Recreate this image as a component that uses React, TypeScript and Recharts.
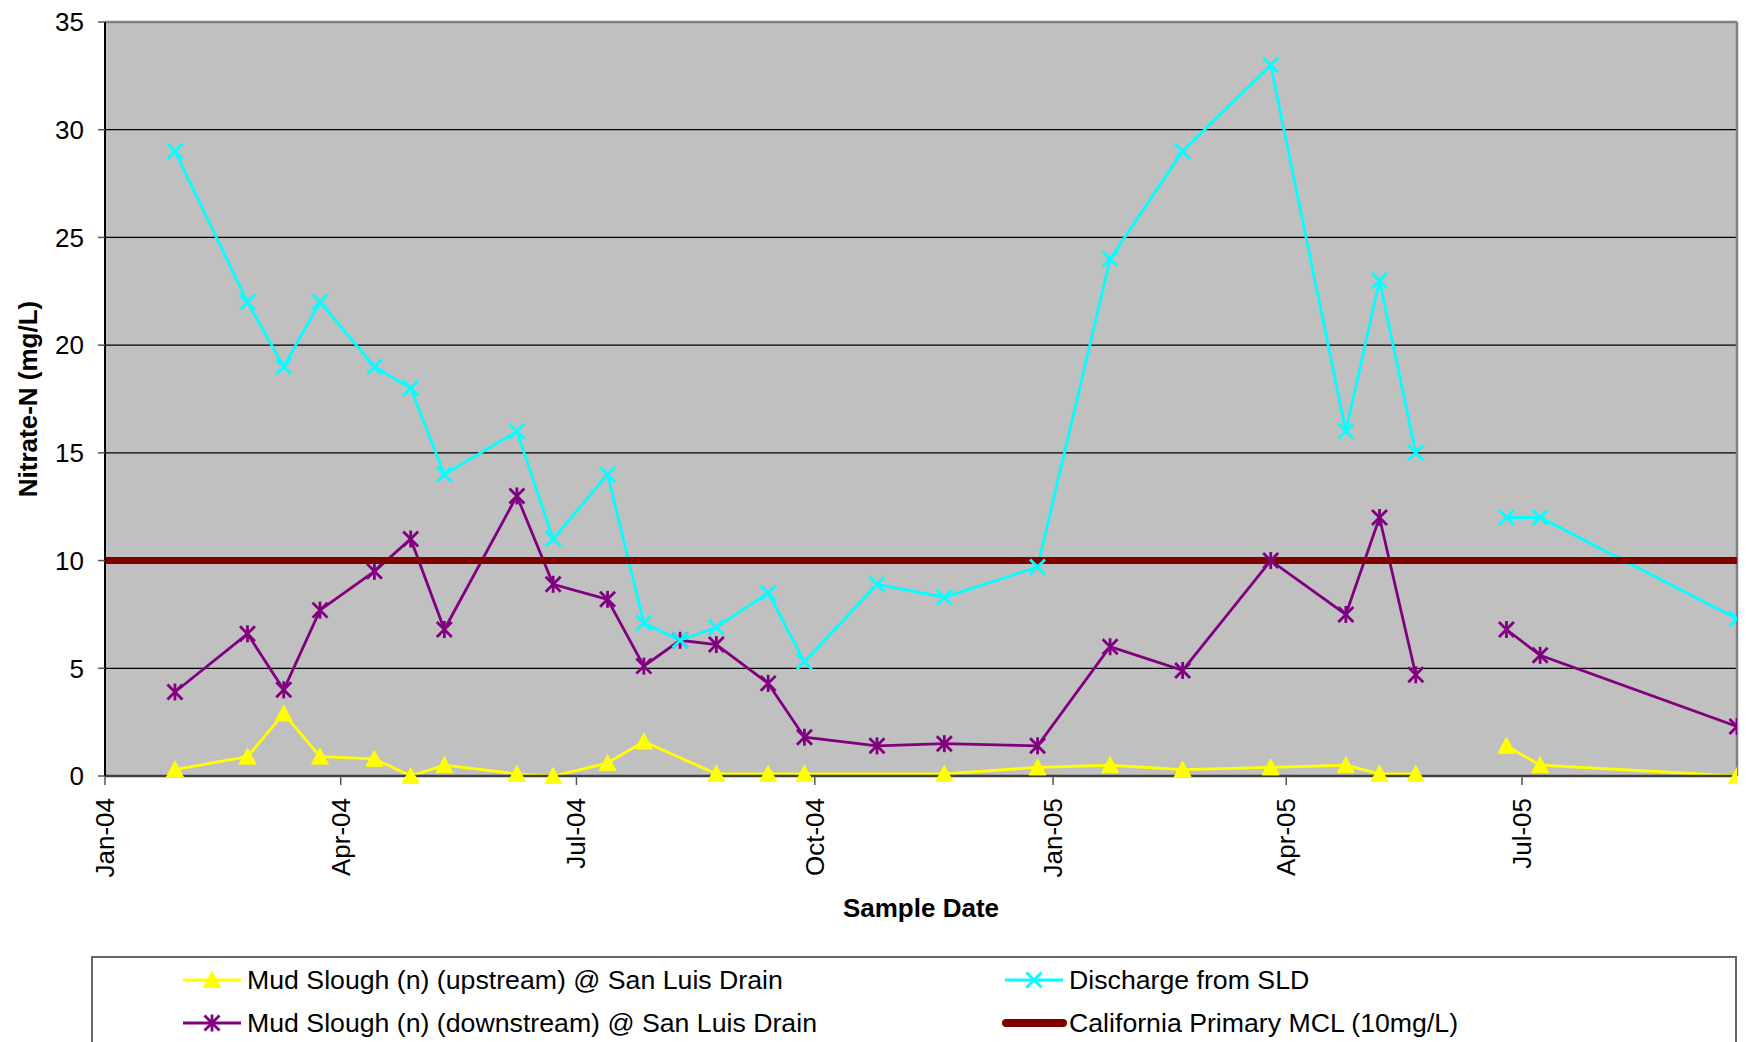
import React from "react";
import { CartesianGrid, Label, Line, LineChart, ReferenceLine, XAxis, YAxis } from "recharts";

document.body.style.margin = "0";

// sampling dates for the SLD discharge and downstream site (blank row = no sampling)
const sampleDates = [
  "2004-01-28", "2004-02-25", "2004-03-10", "2004-03-24", "2004-04-14", "2004-04-28", "2004-05-11",
  "2004-06-08", "2004-06-22", "2004-07-13", "2004-07-27", "2004-08-10", "2004-08-24", "2004-09-13",
  "2004-09-27", "2004-10-25", "2004-11-20", "2004-12-26", "2005-01-23", "2005-02-20", "2005-03-26",
  "2005-04-24", "2005-05-07", "2005-05-21", "2005-06-08", "2005-06-25", "2005-07-08", "2005-09-22"
];
const dischargeSLD = [
  29, 22, 19, 22, 19, 18, 14, 16, 11, 14, 7.1, 6.3, 6.9, 8.5, 5.3, 8.9, 8.3, 9.7, 24, 29, 33, 16, 23, 15,
  null, 12, 12, 7.3
];
const downstreamMS = [
  3.9, 6.6, 4.0, 7.7, 9.5, 11, 6.8, 13, 8.9, 8.2, 5.1, 6.3, 6.1, 4.3, 1.8, 1.4, 1.5, 1.4, 6.0, 4.9, 10, 7.5,
  12, 4.7, null, 6.8, 5.6, 2.3
];

// upstream site was not sampled on 10 Aug and 25 Oct 2004
const upstreamDates = [
  "2004-01-28", "2004-02-25", "2004-03-10", "2004-03-24", "2004-04-14", "2004-04-28", "2004-05-11",
  "2004-06-08", "2004-06-22", "2004-07-13", "2004-07-27", "2004-08-24", "2004-09-13", "2004-09-27",
  "2004-11-20", "2004-12-26", "2005-01-23", "2005-02-20", "2005-03-26", "2005-04-24", "2005-05-07",
  "2005-05-21", "2005-06-08", "2005-06-25", "2005-07-08", "2005-09-22"
];
const upstreamMS = [
  0.3, 0.9, 2.9, 0.9, 0.8, 0.0, 0.5, 0.1, 0.0, 0.6, 1.6, 0.1, 0.1, 0.1, 0.1, 0.4, 0.5, 0.3, 0.4, 0.5, 0.1,
  0.1, null, 1.4, 0.5, 0.0
];

const mclDates = ["2004-01-01", "2005-09-22"];
const mclValues = [10, 10];

const xTickDates = ["2004-01-01", "2004-04-01", "2004-07-01", "2004-10-01", "2005-01-01", "2005-04-01", "2005-07-01"];
const yTicks = [0, 5, 10, 15, 20, 25, 30, 35];
const monthNames = ["Jan", "Feb", "Mar", "Apr", "May", "Jun", "Jul", "Aug", "Sep", "Oct", "Nov", "Dec"];

const FONT = "'Liberation Sans', Arial, sans-serif";
const YELLOW = "#FFFF00";
const PURPLE = "#800080";
const CYAN = "#00FFFF";
const MAROON = "#800000";

const toMs = (d: string) => Date.parse(d);
const toSeries = (dates: string[], values: (number | null)[]) =>
  dates.map((d, i) => ({ t: toMs(d), v: values[i] }));

const upstreamData = toSeries(upstreamDates, upstreamMS);
const downstreamData = toSeries(sampleDates, downstreamMS);
const dischargeData = toSeries(sampleDates, dischargeSLD);
const mclData = toSeries(mclDates, mclValues);

const tStart = toMs(xTickDates[0]);
const tEnd = toMs(sampleDates[sampleDates.length - 1]);

function fmtDate(ms: number) {
  const d = new Date(ms);
  return `${monthNames[d.getUTCMonth()]}-${String(d.getUTCFullYear()).slice(2)}`;
}

function Triangle({ cx, cy, color }: { cx: number; cy: number; color: string }) {
  return (
    <polygon
      points={`${cx},${cy - 8.5} ${cx - 8.5},${cy + 7.5} ${cx + 8.5},${cy + 7.5}`}
      fill={color}
      stroke={color}
      strokeWidth={1}
    />
  );
}

function Cross({ cx, cy, color }: { cx: number; cy: number; color: string }) {
  return (
    <g stroke={color} strokeWidth={2.8}>
      <line x1={cx - 7.5} y1={cy - 7.5} x2={cx + 7.5} y2={cy + 7.5} />
      <line x1={cx - 7.5} y1={cy + 7.5} x2={cx + 7.5} y2={cy - 7.5} />
    </g>
  );
}

function Star({ cx, cy, color }: { cx: number; cy: number; color: string }) {
  return (
    <g stroke={color} strokeWidth={2.8}>
      <line x1={cx - 7.5} y1={cy - 7.5} x2={cx + 7.5} y2={cy + 7.5} />
      <line x1={cx - 7.5} y1={cy + 7.5} x2={cx + 7.5} y2={cy - 7.5} />
      <line x1={cx} y1={cy - 8.5} x2={cx} y2={cy + 8.5} />
    </g>
  );
}

const dotOf = (Shape: any, color: string) => (p: any) => {
  if (p.cx == null || p.cy == null || p.value == null) return <g key={p.index} />;
  return <Shape key={p.index} cx={p.cx} cy={p.cy} color={color} />;
};

function DateTick(p: any) {
  return (
    <text
      x={p.x}
      y={p.y}
      transform={`rotate(-90, ${p.x}, ${p.y})`}
      textAnchor="end"
      dominantBaseline="central"
      fontSize={26}
      fontFamily={FONT}
      fill="#000"
    >
      {fmtDate(p.payload.value)}
    </text>
  );
}

function ChartLegend() {
  const rows = [22, 65];
  return (
    <div
      style={{
        position: "absolute",
        left: 91,
        top: 956,
        width: 1646,
        height: 130,
        border: "2px solid #666",
        boxSizing: "border-box",
        background: "#fff"
      }}
    >
      <svg width={1642} height={126} style={{ display: "block" }} fontFamily={FONT} fontSize={26.7}>
        <line x1={90} x2={148} y1={rows[0]} y2={rows[0]} stroke={YELLOW} strokeWidth={2.8} />
        <Triangle cx={119} cy={rows[0]} color={YELLOW} />
        <text x={154} y={rows[0]} dominantBaseline="central">Mud Slough (n) (upstream) @ San Luis Drain</text>

        <line x1={90} x2={148} y1={rows[1]} y2={rows[1]} stroke={PURPLE} strokeWidth={2.8} />
        <Star cx={119} cy={rows[1]} color={PURPLE} />
        <text x={154} y={rows[1]} dominantBaseline="central">Mud Slough (n) (downstream) @ San Luis Drain</text>

        <line x1={912} x2={970} y1={rows[0]} y2={rows[0]} stroke={CYAN} strokeWidth={2.8} />
        <Cross cx={941} cy={rows[0]} color={CYAN} />
        <text x={976} y={rows[0]} dominantBaseline="central">Discharge from SLD</text>

        <line x1={913} x2={970} y1={rows[1]} y2={rows[1]} stroke={MAROON} strokeWidth={8} strokeLinecap="round" />
        <text x={976} y={rows[1]} dominantBaseline="central">California Primary MCL (10mg/L)</text>
      </svg>
    </div>
  );
}

export default function App() {
  return (
    <div
      style={{
        position: "relative",
        width: 1747,
        height: 1042,
        overflow: "hidden",
        background: "#fff",
        fontFamily: FONT
      }}
    >
      <LineChart width={1747} height={1042} margin={{ top: 22, right: 10, bottom: 106, left: 0 }}>
        <CartesianGrid horizontal vertical={false} stroke="#000" strokeWidth={1.3} fill="#C0C0C0" fillOpacity={1} />
        <XAxis
          dataKey="t"
          type="number"
          domain={[tStart, tEnd]}
          allowDataOverflow
          ticks={xTickDates.map(toMs)}
          interval={0}
          height={160}
          tickSize={9}
          tickMargin={13}
          tick={(p: any) => <DateTick key={p.index} {...p} />}
          axisLine={{ stroke: "#404040", strokeWidth: 2.5 }}
          tickLine={{ stroke: "#555", strokeWidth: 1.5 }}
        >
          <Label
            content={() => (
              <text
                x={921}
                y={908}
                textAnchor="middle"
                dominantBaseline="central"
                fontSize={26}
                fontWeight="bold"
                fontFamily={FONT}
                fill="#000"
              >
                Sample Date
              </text>
            )}
          />
        </XAxis>
        <YAxis
          type="number"
          domain={[0, 35]}
          ticks={yTicks}
          interval={0}
          width={105}
          tickSize={7}
          tickMargin={14}
          tick={{ fill: "#000", fontSize: 26, fontFamily: FONT }}
          axisLine={{ stroke: "#000", strokeWidth: 2 }}
          tickLine={{ stroke: "#555", strokeWidth: 1.5 }}
        >
          <Label
            content={() => (
              <text
                x={28}
                y={399}
                transform="rotate(-90, 28, 399)"
                textAnchor="middle"
                dominantBaseline="central"
                fontSize={26}
                fontWeight="bold"
                fontFamily={FONT}
                fill="#000"
              >
                Nitrate-N (mg/L)
              </text>
            )}
          />
        </YAxis>
        <ReferenceLine y={35} stroke="#808080" strokeWidth={2.5} />
        <ReferenceLine x={tEnd} stroke="#808080" strokeWidth={2.5} />
        <Line
          data={upstreamData}
          dataKey="v"
          name="Mud Slough (n) (upstream) @ San Luis Drain"
          type="linear"
          stroke={YELLOW}
          strokeWidth={2.8}
          dot={dotOf(Triangle, YELLOW)}
          activeDot={false}
          isAnimationActive={false}
        />
        <Line
          data={downstreamData}
          dataKey="v"
          name="Mud Slough (n) (downstream) @ San Luis Drain"
          type="linear"
          stroke={PURPLE}
          strokeWidth={2.8}
          dot={dotOf(Star, PURPLE)}
          activeDot={false}
          isAnimationActive={false}
        />
        <Line
          data={dischargeData}
          dataKey="v"
          name="Discharge from SLD"
          type="linear"
          stroke={CYAN}
          strokeWidth={2.8}
          dot={dotOf(Cross, CYAN)}
          activeDot={false}
          isAnimationActive={false}
        />
        <Line
          data={mclData}
          dataKey="v"
          name="California Primary MCL (10mg/L)"
          type="linear"
          stroke={MAROON}
          strokeWidth={7}
          strokeLinecap="round"
          dot={false}
          activeDot={false}
          isAnimationActive={false}
        />
      </LineChart>
      <ChartLegend />
    </div>
  );
}
